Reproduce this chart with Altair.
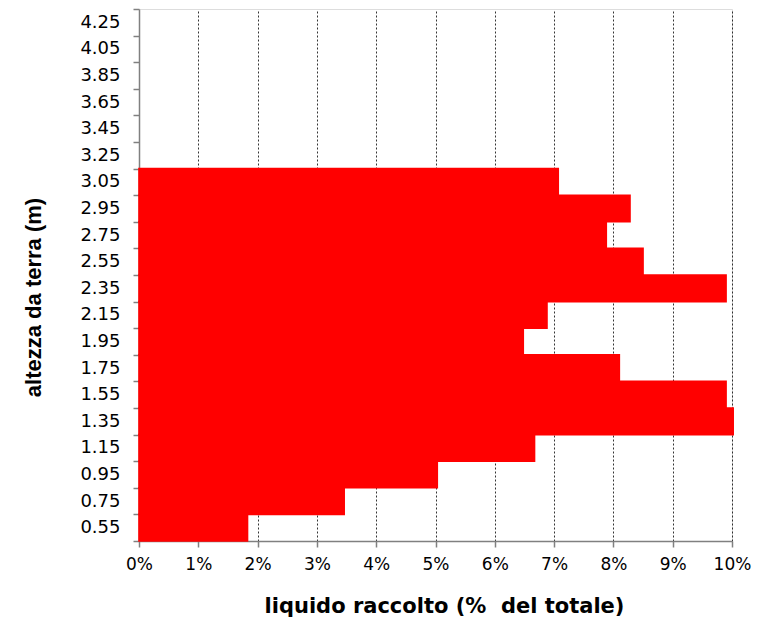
import altair as alt
import pandas as pd

# Height labels (top to bottom as displayed)
all_heights = ["4.25", "4.05", "3.85", "3.65", "3.45", "3.25", "3.05", "2.95",
               "2.75", "2.55", "2.35", "2.15", "1.95", "1.75", "1.55", "1.35",
               "1.15", "0.95", "0.75", "0.55"]

# Bars (bottom to top)
bar_heights = ["0.55", "0.75", "0.95", "1.15", "1.35", "1.55", "1.75", "1.95",
               "2.15", "2.35", "2.55", "2.75", "2.95", "3.05"]
bar_values = [0.0183, 0.0346, 0.0503, 0.0667, 0.1002, 0.0990, 0.0810, 0.0648,
              0.0688, 0.0990, 0.0850, 0.0788, 0.0828, 0.0707]

x_ticks = [0, 0.01, 0.02, 0.03, 0.04, 0.05, 0.06, 0.07, 0.08, 0.09, 0.10]

df = pd.DataFrame({"h": bar_heights, "v": bar_values})

LABEL_FONT = "DejaVu Sans"
W, H = 593, 532

bars = alt.Chart(df).mark_bar(color="#FF0000", stroke="#FF0000", strokeWidth=1.6).encode(
    x=alt.X("v:Q",
            scale=alt.Scale(domain=[0, 0.10], nice=False, zero=True),
            axis=alt.Axis(values=x_ticks, format=".0%",
                          title="liquido raccolto (% \u00a0del totale)",
                          grid=True, gridColor="#000000", gridDash=[2, 2],
                          gridWidth=0.8, gridOpacity=1,
                          domainColor="#808080", domainWidth=1.5,
                          tickColor="#808080", tickSize=6, tickWidth=1.5,
                          labelFont=LABEL_FONT, labelFontSize=17, labelColor="#000000",
                          labelPadding=9, labelBaseline="top", labelFlush=False,
                          titleFont="DejaVu Sans", titleFontSize=21, titleFontWeight="bold",
                          titleColor="#000000", titleX=305, titleY=65,
                          titleBaseline="middle", titleAnchor="middle")),
    y=alt.Y("h:N",
            scale=alt.Scale(domain=all_heights, paddingInner=0, paddingOuter=0),
            axis=alt.Axis(title="altezza da terra (m)", tickBand="extent",
                          grid=False,
                          domainColor="#808080", domainWidth=1.5,
                          tickColor="#808080", tickSize=6, tickWidth=1.5,
                          labelFont=LABEL_FONT, labelFontSize=18, labelColor="#000000",
                          labelPadding=13,
                          titleFont="Liberation Sans", titleFontSize=22, titleFontWeight="bold",
                          titleColor="#000000", titleX=-106, titleY=288,
                          titleBaseline="middle", titleAnchor="middle",
                          titleAngle=270)),
)

chart = bars.properties(
    width=W, height=H,
    autosize=alt.AutoSizeParams(type="none"),
    padding={"left": 131, "top": 1, "right": 20, "bottom": 80},
).configure_view(stroke=None).configure(background="white")

chart.save("out.html", embed_options={"renderer": "svg", "actions": False})
